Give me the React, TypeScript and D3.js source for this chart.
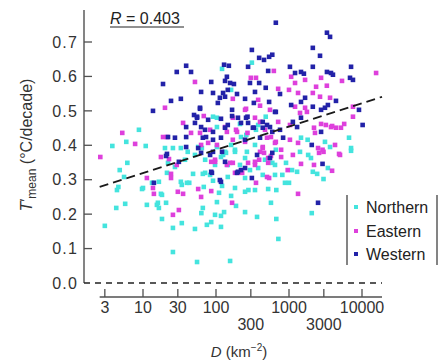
import * as d3 from "d3";

// values: [D (km^-2), T'mean (°C/decade)]
const northern: [number, number][] = [
  [8.8, 0.445], [5.9, 0.41], [3.8, 0.398], [10.9, 0.398], [20, 0.392], [25.7, 0.392], [33, 0.392],
  [6.1, 0.349], [4.8, 0.328], [3.0, 0.166], [4.3, 0.218], [5.7, 0.23], [4.4, 0.27], [4.6, 0.279],
  [11.3, 0.227], [10, 0.276], [15.5, 0.227], [16.5, 0.218], [20.7, 0.233], [18.2, 0.186], [25.7, 0.16],
  [34, 0.174], [25.7, 0.09], [55, 0.061], [51.5, 0.157], [18.2, 0.256], [5.5, 0.308], [9.7, 0.273],
  [13.3, 0.291], [17.6, 0.259], [16.5, 0.294], [21.3, 0.32], [27.4, 0.337], [33, 0.294], [34, 0.285],
  [40, 0.291], [16, 0.233], [22, 0.349], [37.6, 0.358],
  [48.5, 0.317], [43, 0.291], [66, 0.317], [83, 0.314], [91, 0.297], [121, 0.282], [145, 0.308],
  [68, 0.279], [110, 0.262], [103, 0.235], [66, 0.218], [129, 0.206], [117, 0.195], [97, 0.198],
  [86, 0.177], [75, 0.169], [117, 0.163], [156, 0.064], [188, 0.224], [161, 0.253], [182, 0.276],
  [250, 0.265], [278, 0.27], [342, 0.27], [250, 0.206], [365, 0.192], [566, 0.233], [518, 0.273],
  [670, 0.27], [670, 0.186], [715, 0.128], [437, 0.314], [643, 0.314], [881, 0.291], [590, 0.349],
  [910, 0.349], [117, 0.366], [51.5, 0.372], [137, 0.378],
  [1415, 0.381], [1830, 0.372], [2000, 0.363], [7080, 0.384], [3410, 0.334], [1100, 0.328],
  [1290, 0.323], [2120, 0.323], [2430, 0.317], [2970, 0.302], [1000, 0.291], [2050, 0.203],
  [1460, 0.422], [1800, 0.416], [3110, 0.41], [6640, 0.422], [3650, 0.395], [7080, 0.392],
  [310, 0.64], [121, 0.622], [161, 0.561], [91, 0.483], [480, 0.483], [103, 0.453], [213, 0.462],
  [353, 0.445], [378, 0.459], [220, 0.424], [260, 0.43], [57, 0.395], [103, 0.395], [161, 0.401],
  [182, 0.387], [342, 0.401], [265, 0.381], [133, 0.381], [660, 0.387],
  [63, 0.203], [213, 0.343], [292, 0.328], [469, 0.358], [71, 0.358], [97, 0.343], [41, 0.381],
  [103, 0.48], [64, 0.392], [125, 0.372], [182, 0.381], [250, 0.363], [378, 0.334], [643, 0.343],
  [71, 0.32], [250, 0.305], [810, 0.314], [145, 0.343],
];

const eastern: [number, number][] = [
  [2.6, 0.366], [5.2, 0.436], [7.8, 0.404], [20, 0.509], [35.4, 0.465], [18.8, 0.424], [21.3, 0.424],
  [25.7, 0.198], [31, 0.212], [13.7, 0.276], [14.1, 0.259], [30, 0.265], [35.4, 0.259], [11.3, 0.305],
  [24.2, 0.317], [24.2, 0.305], [29, 0.343], [17.6, 0.366], [22.7, 0.36],
  [57, 0.273], [62.5, 0.25], [86, 0.267], [166, 0.233], [353, 0.291], [534, 0.305], [200, 0.32],
  [228, 0.32], [275, 0.349], [342, 0.343], [390, 0.358], [455, 0.378], [566, 0.369], [518, 0.349],
  [780, 0.366], [86, 0.352], [97, 0.352], [156, 0.349], [170, 0.349],
  [2580, 0.378], [2970, 0.381], [5000, 0.372], [1130, 0.372], [1460, 0.346], [2200, 0.343],
  [3890, 0.326], [1330, 0.259],
  [1070, 0.599], [1660, 0.59], [2750, 0.596], [5320, 0.587], [15600, 0.61], [1210, 0.581],
  [2350, 0.57], [2120, 0.552], [3300, 0.573], [1000, 0.561], [2660, 0.541], [3650, 0.538],
  [1330, 0.552], [1210, 0.512], [7520, 0.512], [1660, 0.509], [1415, 0.494], [1760, 0.497],
  [1030, 0.459], [2200, 0.451], [2750, 0.462], [3200, 0.459], [3760, 0.453], [4400, 0.451],
  [5150, 0.451], [2270, 0.436], [1330, 0.407], [2500, 0.392], [2880, 0.387], [1030, 0.416],
  [4270, 0.401], [7520, 0.483], [5700, 0.462], [3900, 0.456], [4850, 0.375],
  [620, 0.616], [51.5, 0.584], [300, 0.596], [353, 0.596], [710, 0.564], [170, 0.535], [378, 0.532],
  [401, 0.515], [549, 0.503], [258, 0.506], [68, 0.485], [342, 0.48], [401, 0.468], [710, 0.468],
  [83, 0.445], [141, 0.439], [188, 0.445], [469, 0.445], [45.5, 0.436], [60.4, 0.436], [170, 0.416],
  [566, 0.424], [660, 0.41], [62.5, 0.401], [78, 0.407], [437, 0.395], [401, 0.381], [780, 0.387],
  [250, 0.503], [170, 0.48], [133, 0.453], [194, 0.439], [270, 0.436], [500, 0.422], [643, 0.407],
  [437, 0.392], [250, 0.41], [97, 0.358], [141, 0.343], [342, 0.352], [518, 0.363], [182, 0.32],
  [500, 0.308], [960, 0.328], [103, 0.401],
];

const western: [number, number][] = [
  [39, 0.631], [29, 0.613], [18.8, 0.578], [24.2, 0.529], [33, 0.535], [13.7, 0.5], [22, 0.424],
  [27.4, 0.422], [39, 0.424], [39, 0.453], [39, 0.395], [21.3, 0.375], [14.1, 0.291], [20.7, 0.369],
  [31, 0.352], [45.5, 0.613],
  [310, 0.677], [390, 0.654], [455, 0.648], [534, 0.657], [590, 0.663], [275, 0.628], [129, 0.634],
  [150, 0.631], [518, 0.616], [86, 0.584], [133, 0.587], [141, 0.599], [156, 0.581], [292, 0.581],
  [176, 0.578], [390, 0.581], [480, 0.567], [342, 0.555], [753, 0.549], [62.5, 0.555], [91, 0.552],
  [125, 0.552], [145, 0.561], [194, 0.549], [113, 0.538], [133, 0.541], [106, 0.523], [250, 0.535],
  [330, 0.523], [534, 0.526], [660, 0.497], [60.4, 0.506], [50, 0.488], [55, 0.48], [117, 0.477],
  [166, 0.485], [200, 0.48], [258, 0.48], [275, 0.465], [220, 0.465], [62.5, 0.453], [70.7, 0.445],
  [133, 0.451], [330, 0.451], [549, 0.453], [753, 0.445], [73, 0.424], [91, 0.416], [117, 0.422],
  [250, 0.416], [401, 0.422], [660, 0.756],
  [3310, 0.727], [3650, 0.715], [2120, 0.683], [2660, 0.66], [1030, 0.628], [2120, 0.628],
  [7080, 0.628], [1460, 0.613], [1600, 0.608], [1210, 0.61], [3310, 0.613], [3760, 0.61],
  [4000, 0.605], [6850, 0.596], [7520, 0.59], [1660, 0.538], [4400, 0.529], [1070, 0.517],
  [1460, 0.526], [2120, 0.512], [2750, 0.503], [3110, 0.509], [3410, 0.517], [9090, 0.503],
  [1460, 0.48], [1130, 0.468], [1290, 0.453], [10200, 0.459], [2750, 0.439], [2050, 0.401],
  [86, 0.323], [113, 0.299], [117, 0.294], [194, 0.32], [220, 0.328], [250, 0.334], [549, 0.363],
  [590, 0.378], [62.5, 0.378], [91, 0.381], [133, 0.352], [2880, 0.346], [2500, 0.233], [51.5, 0.465],
  [60.4, 0.509], [55, 0.483], [78, 0.474], [91, 0.439], [66, 0.422], [57, 0.392], [83, 0.372],
  [121, 0.381], [145, 0.459], [166, 0.503], [270, 0.483], [320, 0.451], [437, 0.468], [437, 0.451],
  [500, 0.459], [590, 0.439], [643, 0.497], [830, 0.422], [365, 0.372], [200, 0.323], [88, 0.32],
  [310, 0.305],
];

const seriesNames = ["Northern", "Eastern", "Western"];
const seriesColors = ["#44e4de", "#de40dc", "#2222a8"];
const seriesData = [northern, eastern, western];

const yTicks = [0, 0.1, 0.2, 0.3, 0.4, 0.5, 0.6, 0.7];
const xTicksRow1 = [3, 10, 30, 100, 1000, 10000];
const xTicksRow2 = [300, 3000];
const xDomain: [number, number] = [2.55, 18800];

// regression T = a + b*log10(D), R = 0.403
const fitIntercept = 0.2515;
const fitSlope = 0.0677;
const rLabel = "0.403";

const font = "'Liberation Sans', Arial, Helvetica, sans-serif";

export default function App() {
  const width = 443;
  const height = 361;

  const x = d3.scaleLog().domain([1, 10000]).range([70, 362]);
  const y = d3.scaleLinear().domain([0, 0.7]).range([283, 42]);

  const yAxisX = 84;
  const xAxisY = 297;
  const axisColor = "#505050";

  const fitLine = d3
    .line<number>()
    .x((d) => x(d))
    .y((d) => y(fitIntercept + fitSlope * Math.log10(d)));

  const legendY = [207, 231, 254];

  return (
    <svg
      width={width}
      height={height}
      style={{ position: "absolute", left: 0, top: 0, background: "#fff" }}
      fontFamily={font}
    >
      {/* y axis */}
      <line x1={yAxisX} x2={yAxisX} y1={10} y2={y(0)} stroke={axisColor} strokeWidth={1.4} />
      {yTicks.map((t) => (
        <g key={t}>
          {t > 0 && (
            <line x1={yAxisX} x2={yAxisX + 8} y1={y(t)} y2={y(t)} stroke={axisColor} strokeWidth={1.3} />
          )}
          <text x={78} y={y(t)} dy="0.36em" textAnchor="end" fontSize={16} fill="#333" letterSpacing={1.2}>
            {t.toFixed(1)}
          </text>
        </g>
      ))}

      {/* zero line */}
      <line
        x1={yAxisX}
        x2={x(xDomain[1])}
        y1={y(0)}
        y2={y(0)}
        stroke="#222"
        strokeWidth={1.3}
        strokeDasharray="6,5"
      />

      {/* points */}
      {seriesData.map((pts, si) =>
        pts.map((p, i) => (
          <rect
            key={si + "-" + i}
            x={x(p[0]) - 2.3}
            y={y(p[1]) - 2.3}
            width={4.6}
            height={4.6}
            fill={seriesColors[si]}
          />
        ))
      )}

      {/* regression */}
      <path
        d={fitLine(xDomain) || ""}
        fill="none"
        stroke="#1a1a1a"
        strokeWidth={1.8}
        strokeDasharray="9,5"
      />

      {/* x axis */}
      <line
        x1={x(xDomain[0])}
        x2={x(xDomain[1])}
        y1={xAxisY}
        y2={xAxisY}
        stroke={axisColor}
        strokeWidth={1.4}
      />
      {[...xTicksRow1, ...xTicksRow2].map((t) => (
        <line key={t} x1={x(t)} x2={x(t)} y1={xAxisY} y2={xAxisY - 8} stroke={axisColor} strokeWidth={1.3} />
      ))}
      {xTicksRow1.map((t) => (
        <text key={t} x={x(t)} y={313} textAnchor="middle" fontSize={16} fill="#333">
          {t}
        </text>
      ))}
      {xTicksRow2.map((t) => (
        <text key={t} x={x(t)} y={330} textAnchor="middle" fontSize={16} fill="#333">
          {t}
        </text>
      ))}
      <text x={239} y={357} textAnchor="middle" fontSize={15} fill="#333">
        <tspan fontStyle="italic">D</tspan> (km
        <tspan fontSize={10} dy={-6}>−2</tspan>
        <tspan dy={6}>)</tspan>
      </text>

      {/* y label */}
      <text
        transform="translate(32,145) rotate(-90)"
        textAnchor="middle"
        fontSize={16}
        fill="#333"
      >
        <tspan fontStyle="italic">T</tspan>
        <tspan>′</tspan>
        <tspan fontSize={12} dy={4}>mean</tspan>
        <tspan dy={-4}> (°C/decade)</tspan>
      </text>

      {/* R label */}
      <text x={110} y={24} fontSize={16} fill="#222">
        <tspan fontStyle="italic">R</tspan> = {rLabel}
      </text>
      <line x1={110} x2={184} y1={27} y2={27} stroke="#222" strokeWidth={1} />

      {/* legend */}
      <line x1={347} x2={347} y1={195} y2={265} stroke={axisColor} strokeWidth={1.4} />
      <line x1={437} x2={437} y1={195} y2={265} stroke={axisColor} strokeWidth={1.4} />
      {seriesNames.map((name, i) => (
        <g key={name}>
          <rect x={354} y={legendY[i] - 2} width={4} height={4} fill={seriesColors[i]} />
          <text x={366} y={legendY[i]} dy="0.36em" fontSize={16} fill="#222">
            {name}
          </text>
        </g>
      ))}
    </svg>
  );
}
